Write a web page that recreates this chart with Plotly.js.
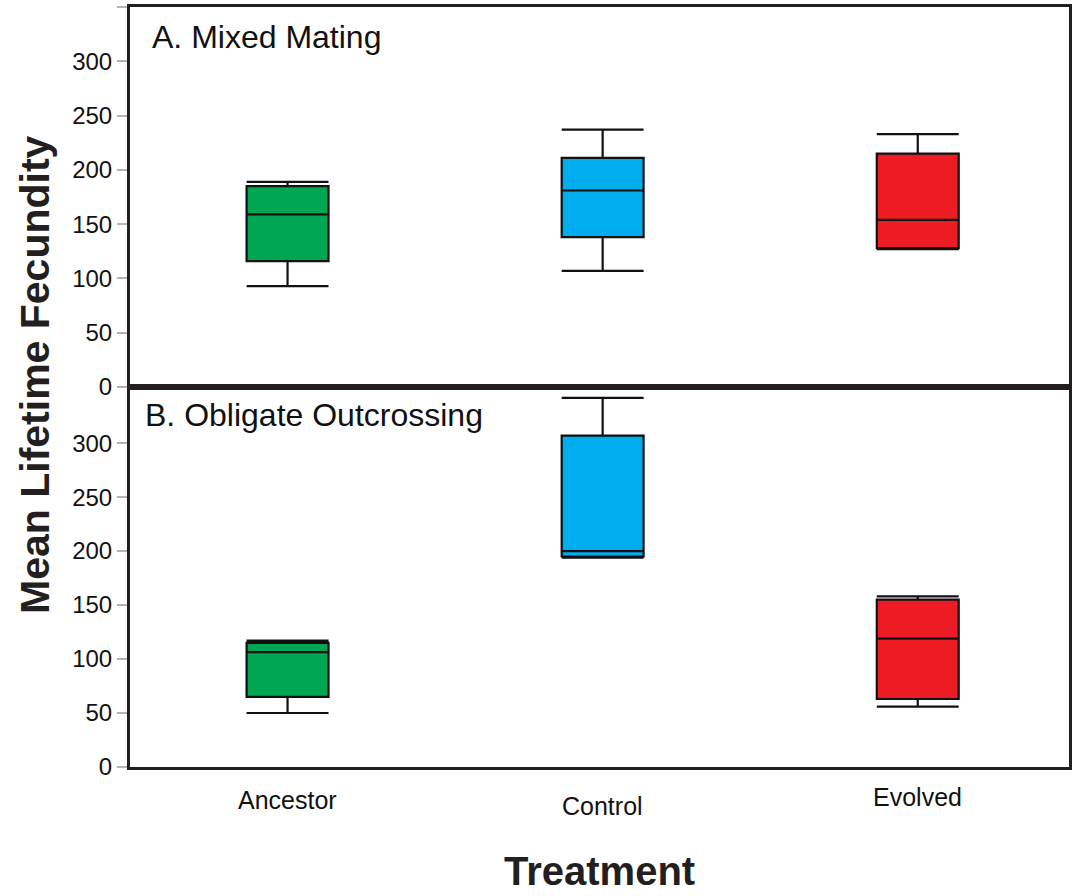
<!DOCTYPE html>
<html>
<head>
<meta charset="utf-8">
<script src="https://cdn.plot.ly/plotly-3.0.1.min.js"></script>
<style>html,body{margin:0;padding:0;background:#fff;}#chart{width:1073px;height:896px;}</style>
</head>
<body>
<div id="chart"></div>
<script>
// ---- data ----
const treatments = ['Ancestor', 'Control', 'Evolved'];
const panelTitles = ['A. Mixed Mating', 'B. Obligate Outcrossing'];
const yTitle = 'Mean Lifetime Fecundity';
const xTitle = 'Treatment';

// A. Mixed Mating
const mixedLower  = [93, 107, 127];
const mixedQ1     = [116, 138, 128];
const mixedMedian = [159, 181, 154];
const mixedQ3     = [185, 211, 215];
const mixedUpper  = [189, 237, 233];

// B. Obligate Outcrossing
const outLower  = [50, 194, 56];
const outQ1     = [65, 195, 63];
const outMedian = [106.5, 200, 119];
const outQ3     = [115, 307, 155];
const outUpper  = [117, 342, 158];

const tickValsTop = [0, 50, 100, 150, 200, 250, 300, 350];
const tickTextTop = ['0', '50', '100', '150', '200', '250', '300', ''];
const tickValsBottom = [0, 50, 100, 150, 200, 250, 300];

// ---- style ----
const fills = ['#00A651', '#00AEEF', '#ED1C24'];
const FONT = 'Liberation Sans, Arial, Helvetica, sans-serif';

const traces = [];
function addPanel(lower, q1, med, q3, upper, xa, ya) {
  treatments.forEach((t, i) => {
    traces.push({
      type: 'box',
      x: [t],
      lowerfence: [lower[i]],
      q1: [q1[i]],
      median: [med[i]],
      q3: [q3[i]],
      upperfence: [upper[i]],
      xaxis: xa, yaxis: ya,
      width: 0.26,
      whiskerwidth: 1,
      fillcolor: fills[i],
      line: {color: '#111', width: 2.2},
      boxpoints: false,
      hoverinfo: 'skip',
      showlegend: false
    });
  });
}
addPanel(mixedLower, mixedQ1, mixedMedian, mixedQ3, mixedUpper, 'x2', 'y2');
addPanel(outLower, outQ1, outMedian, outQ3, outUpper, 'x', 'y');

const axisLine = {showline: true, linecolor: '#231f20', linewidth: 3, mirror: true, showgrid: false, zeroline: false};

const labelY = [-0.0434, -0.0513, -0.0395];
const annotations = treatments.map((t, i) => ({
  text: t, xref: 'x', yref: 'paper', x: t, y: labelY[i],
  showarrow: false, xanchor: 'center', yanchor: 'middle',
  font: {family: FONT, size: 25, color: '#111'}
}));
annotations.push(
  {text: panelTitles[0], xref: 'paper', yref: 'paper', x: 0.0213, y: 0.9605, xanchor: 'left', yanchor: 'middle', showarrow: false, font: {family: FONT, size: 32, color: '#111'}},
  {text: panelTitles[1], xref: 'paper', yref: 'paper', x: 0.0138, y: 0.463, xanchor: 'left', yanchor: 'middle', showarrow: false, font: {family: FONT, size: 32, color: '#111'}},
  {text: '<b>' + yTitle + '</b>', xref: 'paper', yref: 'paper', x: -0.101, y: 0.516, textangle: -90, xanchor: 'center', yanchor: 'middle', showarrow: false, font: {family: FONT, size: 41, color: '#231f20'}},
  {text: '<b>' + xTitle + '</b>', xref: 'paper', yref: 'paper', x: 0.5005, y: -0.168, xanchor: 'center', yanchor: 'bottom', showarrow: false, font: {family: FONT, size: 40, color: '#231f20'}}
);

const layout = {
  width: 1073, height: 896,
  margin: {l: 130, r: 4, t: 7, b: 129},
  paper_bgcolor: '#fff', plot_bgcolor: '#fff',
  boxmode: 'overlay',
  font: {family: FONT, color: '#111'},
  xaxis: Object.assign({}, axisLine, {
    anchor: 'y', domain: [0, 1], type: 'category', categoryorder: 'array', categoryarray: treatments,
    range: [-0.5, 2.48], showticklabels: false, ticks: ''
  }),
  xaxis2: Object.assign({}, axisLine, {
    anchor: 'y2', matches: 'x', domain: [0, 1], type: 'category', categoryorder: 'array', categoryarray: treatments,
    range: [-0.5, 2.48], showticklabels: false, ticks: ''
  }),
  yaxis: Object.assign({}, axisLine, {
    anchor: 'x', domain: [0, 0.5], range: [0, 352],
    tickmode: 'array', tickvals: tickValsBottom,
    ticks: 'outside', ticklen: 10, tickwidth: 2, tickcolor: '#b5b5b5',
    tickfont: {family: FONT, size: 24, color: '#111'}
  }),
  yaxis2: Object.assign({}, axisLine, {
    anchor: 'x2', domain: [0.5, 1], range: [0, 350],
    tickmode: 'array', tickvals: tickValsTop, ticktext: tickTextTop,
    ticks: 'outside', ticklen: 10, tickwidth: 2, tickcolor: '#b5b5b5',
    tickfont: {family: FONT, size: 24, color: '#111'}
  }),
  annotations: annotations
};

Plotly.newPlot('chart', traces, layout, {displayModeBar: false, staticPlot: true});
</script>
</body>
</html>
